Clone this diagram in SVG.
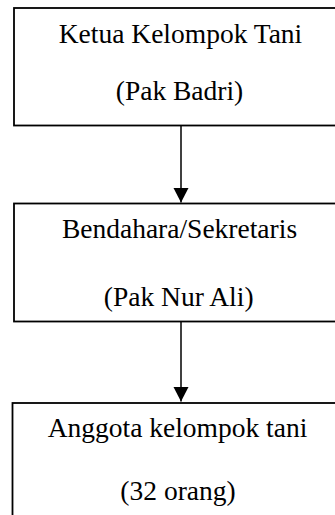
<svg xmlns="http://www.w3.org/2000/svg" width="335" height="515" viewBox="0 0 335 515">
<style>
.box{fill:#fff;stroke:#000;stroke-width:1.8}
.t{font-family:"Liberation Serif","Times New Roman",serif;font-size:27.5px;fill:#000;text-anchor:middle}
.conn{stroke:#000;stroke-width:1.5;fill:none}
</style>
<defs>
<marker id="ah" markerUnits="userSpaceOnUse" markerWidth="16" markerHeight="16" viewBox="0 0 16 16" refX="14.5" refY="7.5" orient="auto">
<path d="M0,0 L14.5,7.5 L0,15 Z" fill="#000"/>
</marker>
</defs>
<rect width="335" height="515" fill="#fff"/>
<g id="node-ketua">
<rect class="box" x="14" y="8" width="345" height="117.5"/>
<text class="t" x="180.5" y="43">Ketua Kelompok Tani</text>
<text class="t" x="179.5" y="99.5">(Pak Badri)</text>
</g>
<g id="node-bendahara">
<rect class="box" x="14" y="203.5" width="345" height="118"/>
<text class="t" x="179.5" y="238">Bendahara/Sekretaris</text>
<text class="t" x="178.7" y="306">(Pak Nur Ali)</text>
</g>
<g id="node-anggota">
<rect class="box" x="12.5" y="403" width="345" height="130"/>
<text class="t" x="177.5" y="436.5">Anggota kelompok tani</text>
<text class="t" x="178" y="500">(32 orang)</text>
</g>
<g id="connectors">
<line class="conn" x1="181" y1="125.5" x2="181" y2="202.5" marker-end="url(#ah)"/>
<line class="conn" x1="181" y1="321.5" x2="181" y2="401.5" marker-end="url(#ah)"/>
</g>
</svg>
